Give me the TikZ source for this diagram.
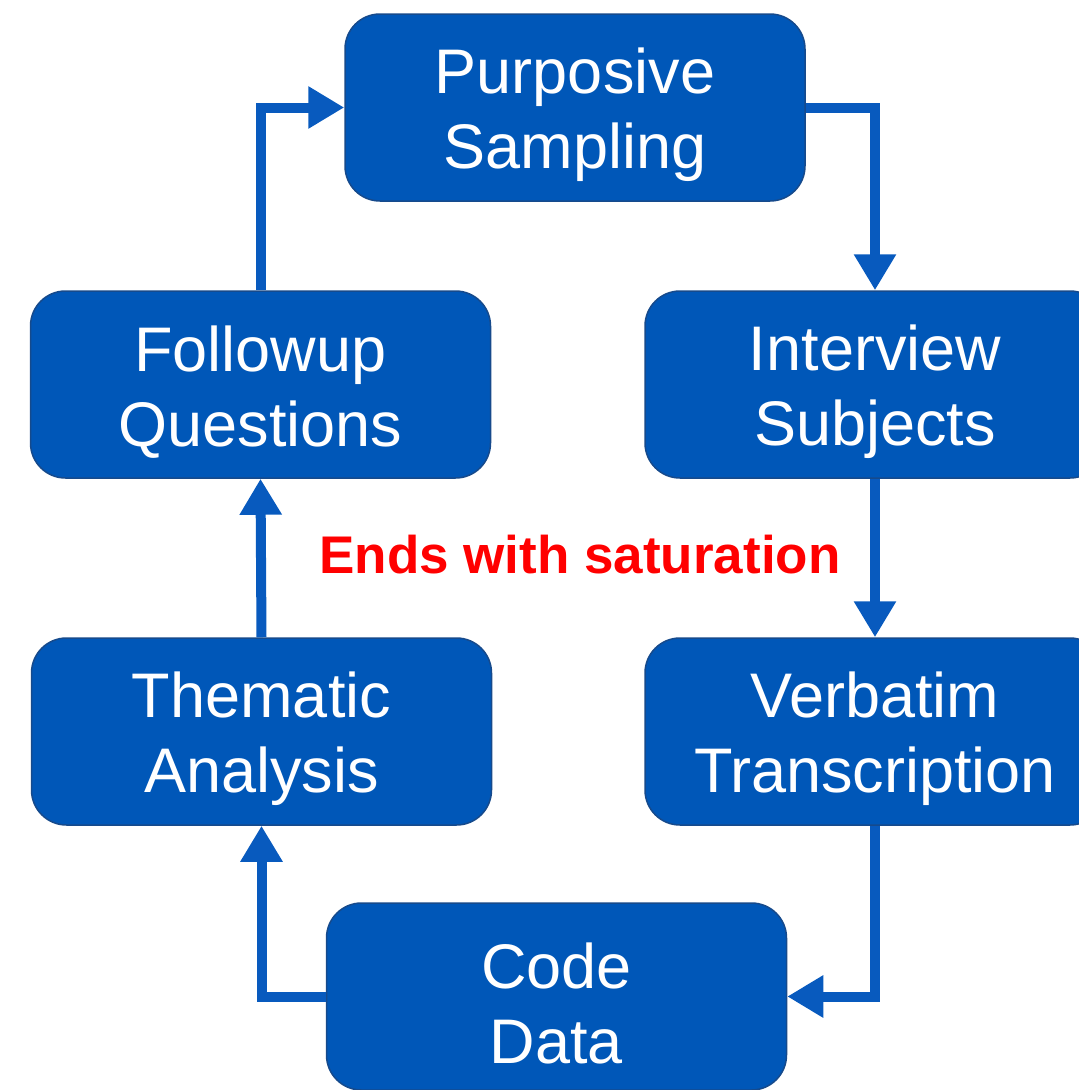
\documentclass[tikz,border=0pt]{standalone}
\usepackage{fontspec}
\setmainfont{Liberation Sans}
\usetikzlibrary{arrows.meta}
\definecolor{boxblue}{RGB}{0,87,184}
\definecolor{boxedge}{RGB}{22,74,140}
\definecolor{arrowblue}{RGB}{8,90,190}
\newcommand\stagetext[2]{\rule{0pt}{60pt}#1\\#2}
\tikzset{
  stagebox/.style={rectangle, rounded corners=35pt, fill=boxblue, draw=boxedge, line width=1.5pt,
    minimum width=460pt, minimum height=187pt, inner sep=0pt, align=center, text=white,
    font=\fontsize{63}{75}\selectfont},
  flow/.style={draw=arrowblue, line width=10pt, -{Triangle[length=36pt,width=40pt]}},
  note/.style={text=red, font=\bfseries\fontsize{53}{60}\selectfont, inner sep=0pt}
}
\begin{document}
\begin{tikzpicture}[x=1pt,y=-1pt]
\useasboundingbox (0,0) rectangle (1079,1090);
\clip (0,0) rectangle (1079,1090);
\node[stagebox] (ps) at (575,107.5) {\stagetext{Purposive}{Sampling}};
\node[stagebox] (fq) at (260.5,384.5) {\stagetext{Followup}{Questions}};
\node[stagebox] (is) at (875,384.5) {\stagetext{Interview}{Subjects}};
\node[stagebox] (ta) at (261.5,731.5) {\stagetext{Thematic}{Analysis}};
\node[stagebox] (vt) at (875,731.5) {\stagetext{Verbatim}{Transcription}};
\node[stagebox] (cd) at (556.5,996.5) {\stagetext{Code}{Data}};
\node[note] (sat) at (580,555) {Ends with saturation};
\draw[flow] (ps.east) -| (is.north);
\draw[flow] (is.south) -- (vt.north);
\draw[flow] (vt.south) |- (cd.east);
\draw[flow] (cd.west) -| (ta.south);
\draw[flow] (ta.north) -- (fq.south);
\draw[flow] (fq.north) |- (ps.west);
\end{tikzpicture}
\end{document}
